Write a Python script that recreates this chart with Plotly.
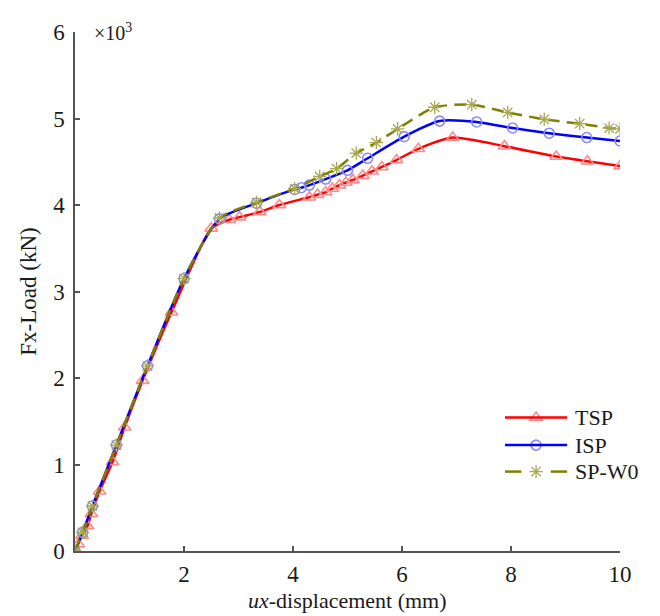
import plotly.graph_objects as go

# ---- data ----
tsp_x = [0, 0.06, 0.13, 0.23, 0.30, 0.45, 0.69, 0.91, 1.24, 1.77, 2.5, 2.83, 3.02, 3.39, 3.75,
         4.3, 4.45, 4.6, 4.72, 4.85, 4.97, 5.1, 5.28, 5.45, 5.63, 5.9, 6.3, 6.93, 7.88, 8.83, 9.4, 10.0]
tsp_y = [0, 80, 180, 290, 430, 690, 1030, 1430, 1970, 2760, 3730, 3830, 3860, 3920, 4000,
         4090, 4120, 4150, 4190, 4230, 4260, 4290, 4340, 4390, 4440, 4520, 4650, 4780, 4680, 4560, 4505, 4450]

isp_x = [0, 0.14, 0.32, 0.76, 1.33, 2.0, 2.65, 3.33, 4.03, 4.15, 4.3, 4.6, 5.0, 5.37, 6.04,
         6.69, 7.37, 8.03, 8.7, 9.39, 10.0]
isp_y = [0, 215, 520, 1225, 2140, 3150, 3840, 4020, 4180, 4200, 4230, 4300, 4400, 4540, 4790,
         4970, 4960, 4890, 4830, 4780, 4740]

spw0_x = [0, 0.14, 0.32, 0.76, 1.33, 2.0, 2.65, 3.33, 4.03, 4.49, 4.8, 5.16, 5.53, 5.92,
          6.6, 7.28, 7.94, 8.61, 9.26, 9.8, 10.0]
spw0_y = [0, 215, 520, 1225, 2140, 3150, 3850, 4030, 4190, 4330, 4420, 4600, 4720, 4880,
          5130, 5160, 5070, 4990, 4940, 4890, 4880]

series_names = ["TSP", "ISP", "SP-W0"]
x_ticks = [2, 4, 6, 8, 10]
y_ticks = [0, 1000, 2000, 3000, 4000, 5000, 6000]
y_ticktext = ["0", "1", "2", "3", "4", "5", "6"]
x_title = "<i>ux</i>-displacement (mm)"
y_title = "Fx-Load (kN)"

FONT = "Liberation Serif"
TXT = "#1a1a1a"

styles = [
    dict(line=dict(color="#ff0000", width=2.5),
         marker=dict(symbol="triangle-up-open", size=11, color="#ff8a8a", line=dict(width=1.6, color="#ff8a8a"))),
    dict(line=dict(color="#0000ff", width=2.5),
         marker=dict(symbol="circle-open", size=10, color="#8a8aff", line=dict(width=1.6, color="#8a8aff"))),
    dict(line=dict(color="#808000", width=2.5, dash="12px,7px"),
         marker=dict(symbol="asterisk-open", size=11, color="#a8a850", line=dict(width=1.3, color="#a8a850"))),
]

fig = go.Figure()
for name, xs, ys, st in zip(series_names, [tsp_x, isp_x, spw0_x], [tsp_y, isp_y, spw0_y], styles):
    fig.add_trace(go.Scatter(
        x=xs, y=ys, name=name, mode="lines+markers", showlegend=False,
        line=dict(shape="spline", smoothing=0.6, **st["line"]),
        marker=st["marker"],
    ))

# ---- custom legend (overlay axes with range 0..1) ----
leg_x0, leg_x1, leg_xm, leg_xt = 0.789, 0.903, 0.846, 0.914
leg_rows = [0.257, 0.204, 0.153]
shapes = []
for i, (st, ry) in enumerate(zip(styles, leg_rows)):
    col = st["line"]["color"]
    if i < 2:
        shapes.append(dict(type="line", xref="paper", yref="paper", x0=leg_x0, x1=leg_x1, y0=ry, y1=ry,
                           line=dict(color=col, width=2.5)))
    else:
        for a, b in [(leg_x0, leg_x0 + 0.03), (leg_x1 - 0.03, leg_x1)]:
            shapes.append(dict(type="line", xref="paper", yref="paper", x0=a, x1=b, y0=ry, y1=ry,
                               line=dict(color=col, width=2.5)))
    fig.add_trace(go.Scatter(x=[leg_xm], y=[ry], xaxis="x2", yaxis="y2", mode="markers",
                             marker=st["marker"], showlegend=False, hoverinfo="skip", cliponaxis=False))

annotations = [dict(text="×10<sup>3</sup>", xref="paper", yref="paper", x=0.031, y=1.0,
                    xanchor="left", yanchor="middle", showarrow=False,
                    font=dict(family=FONT, size=20, color=TXT)),
               dict(text=x_title, xref="paper", yref="paper", x=0.5, y=-0.096,
                    xanchor="center", yanchor="middle", showarrow=False,
                    font=dict(family=FONT, size=22, color=TXT))]
for name, ry in zip(series_names, leg_rows):
    annotations.append(dict(text=name, xref="paper", yref="paper", x=leg_xt, y=ry,
                            xanchor="left", yanchor="middle", showarrow=False,
                            font=dict(family=FONT, size=22, color=TXT)))

axis_common = dict(
    showgrid=False, zeroline=False, showline=True, linecolor="#555", linewidth=1.5,
    ticks="inside", ticklen=5, tickwidth=1.5, tickcolor="#555",
    tickfont=dict(family=FONT, size=23, color=TXT), mirror=False,
)

# the page body adds an 8px offset, so the figure is 8px smaller on each axis
fig.update_layout(
    width=652, height=608,
    margin=dict(l=67, r=40, t=13, b=65),
    plot_bgcolor="white", paper_bgcolor="white",
    font=dict(family=FONT, color=TXT),
    showlegend=False,
    xaxis=dict(range=[0, 10], tickvals=x_ticks, ticklabelstandoff=2, **axis_common),
    yaxis=dict(range=[0, 6000], tickvals=y_ticks, ticktext=y_ticktext, ticklabelstandoff=4,
               title=dict(text=y_title, font=dict(family=FONT, size=23, color=TXT), standoff=10),
               **axis_common),
    xaxis2=dict(overlaying="x", range=[0, 1], visible=False, anchor="y2"),
    yaxis2=dict(overlaying="y", range=[0, 1], visible=False, anchor="x2"),
    shapes=shapes,
    annotations=annotations,
)

fig.write_html("out.html")
